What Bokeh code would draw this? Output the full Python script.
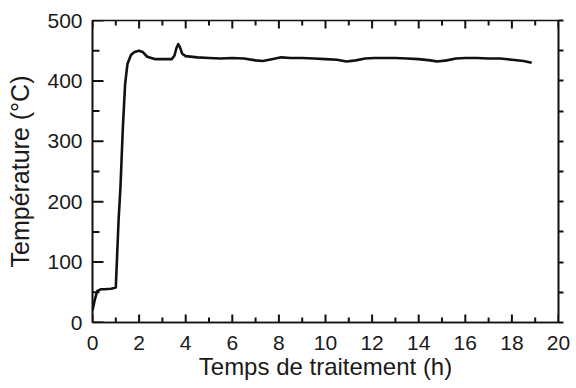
import math
from bokeh.plotting import figure
from bokeh.models import FixedTicker, Range1d, LinearAxis, CustomJSTickFormatter
from bokeh.embed import file_html
from bokeh.resources import INLINE

time_h = [0, 0.1, 0.2, 0.35, 0.5, 0.8, 1.0, 1.06, 1.12, 1.2, 1.3, 1.4, 1.5, 1.65, 1.8, 2.0, 2.15,
          2.35, 2.7, 3.0, 3.4, 3.52, 3.6, 3.68, 3.76, 3.85, 4.0, 4.5, 5.0, 5.5, 6.0, 6.5, 7.0,
          7.3, 7.7, 8.1, 8.5, 9.0, 9.5, 10.0, 10.5, 10.9, 11.3, 11.7, 12.1, 12.5, 13.0, 13.5,
          14.0, 14.5, 14.8, 15.2, 15.6, 16.0, 16.5, 17.0, 17.5, 18.0, 18.5, 18.85]
temp_c = [20, 38, 52, 55, 55, 56, 58, 114, 170, 224, 320, 395, 428, 443, 448, 450, 448,
          440, 436, 436, 436, 442, 454, 461, 455, 445, 441, 439, 438, 437, 438, 437, 434,
          433, 436, 439, 438, 438, 437, 436, 435, 432, 434, 437, 438, 438, 438, 437,
          436, 434, 432, 434, 437, 438, 438, 437, 437, 435, 433, 430]

x_ticks = [0, 2, 4, 6, 8, 10, 12, 14, 16, 18, 20]
x_minor = [1, 3, 5, 7, 9, 11, 13, 15, 17, 19]
y_ticks = [0, 100, 200, 300, 400, 500]
y_minor = [50, 150, 250, 350, 450]
x_min, x_max = 0, 20
y_min, y_max = 0, 500

FONT = "Liberation Sans"
INK = "#111111"
TICK_W = 2

p = figure(width=576, height=388, output_backend="svg", toolbar_location=None,
           x_range=Range1d(x_min, x_max), y_range=Range1d(y_min, y_max),
           min_border_left=92, min_border_right=18, min_border_top=20, min_border_bottom=66,
           x_axis_label="Temps de traitement (h)", y_axis_label="Température (°C)")
p.grid.visible = False
p.outline_line_color = INK
p.outline_line_width = 1.6
p.background_fill_color = "white"
p.border_fill_color = "white"

p.line(time_h, temp_c, line_color=INK, line_width=2.6, line_join="round")

# inward tick marks drawn as short rays (screen-unit length) from the frame edges
def ticks_x(vals, y_edge, length, angle):
    p.ray(x=vals, y=[y_edge] * len(vals), length=length, angle=angle,
          length_units="screen", line_color=INK, line_width=TICK_W)

def ticks_y(vals, x_edge, length, angle):
    p.ray(x=[x_edge] * len(vals), y=vals, length=length, angle=angle,
          length_units="screen", line_color=INK, line_width=TICK_W)

ticks_x(x_ticks, y_min, 8, math.pi / 2)
ticks_x(x_minor, y_min, 5, math.pi / 2)
ticks_x(x_ticks, y_max, 8, -math.pi / 2)
ticks_x(x_minor, y_max, 5, -math.pi / 2)
ticks_y(y_ticks, x_min, 11, 0)
ticks_y(y_minor, x_min, 7, 0)

for ax, t, m in ((p.xaxis[0], x_ticks, x_minor), (p.yaxis[0], y_ticks, y_minor)):
    ax.ticker = FixedTicker(ticks=t, minor_ticks=m)
    ax.major_tick_in = 0
    ax.major_tick_out = 0
    ax.minor_tick_in = 0
    ax.minor_tick_out = 0
    ax.axis_line_color = INK
    ax.axis_line_width = 1.6
    ax.major_label_text_font = FONT
    ax.major_label_text_font_size = "21px"
    ax.major_label_text_color = "#1a1a1a"
    ax.axis_label_text_font = FONT
    ax.axis_label_text_font_style = "normal"
    ax.axis_label_text_color = "#1a1a1a"

p.xaxis[0].axis_label_text_font_size = "24px"
p.xaxis[0].major_label_standoff = 13
p.xaxis[0].axis_label_standoff = 0
p.yaxis[0].axis_label_text_font_size = "25px"
p.yaxis[0].major_label_standoff = 10
p.yaxis[0].axis_label_standoff = 10

# right side: short outward ticks, no labels
right = LinearAxis(ticker=FixedTicker(ticks=y_ticks, minor_ticks=y_minor),
                   formatter=CustomJSTickFormatter(code="return ''"))
right.major_tick_in = 0
right.major_tick_out = 5
right.minor_tick_in = 0
right.minor_tick_out = 5
right.major_tick_line_color = INK
right.minor_tick_line_color = INK
right.major_tick_line_width = TICK_W
right.minor_tick_line_width = TICK_W
right.axis_line_color = INK
right.axis_line_width = 1.6
right.major_label_standoff = 0
p.add_layout(right, "right")

open("out.html", "w").write(file_html(p, INLINE))
